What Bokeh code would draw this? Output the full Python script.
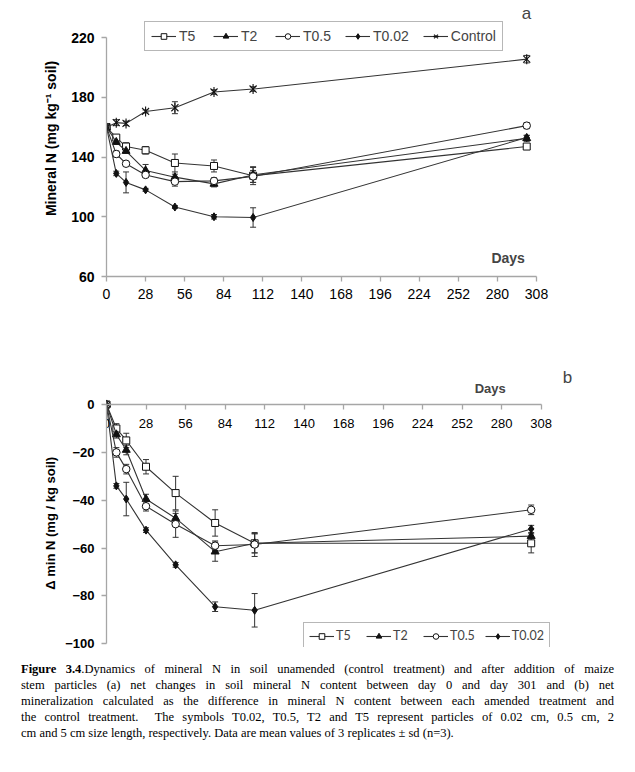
import math
from bokeh.plotting import figure
from bokeh.models import (ColumnDataSource, Whisker, TeeHead, Legend, LegendItem,
                          Label, FixedTicker, Div)
from bokeh.layouts import column
from bokeh.embed import file_html
from bokeh.resources import INLINE

# ---------------- data ----------------
days = [0, 7, 14, 28, 49, 77, 105, 301]
x_ticks = [0, 28, 56, 84, 112, 140, 168, 196, 224, 252, 280, 308]
y_ticks_a = [60, 100, 140, 180, 220]
y_ticks_b = [-100, -80, -60, -40, -20, 0]

# (a) mineral N, mg kg-1 soil
t5 = [160, 153, 147, 144.5, 136, 134, 127.5, 147]
t5_sd = [1, 1.5, 2.5, 2.5, 6, 4, 6, 2]
t2 = [160, 150, 144, 131, 126.5, 122, 128, 152.5]
t2_sd = [1, 1.5, 1.5, 4, 2, 2, 5, 2]
t05 = [160, 142, 135.5, 128, 123.5, 124, 127, 161]
t05_sd = [1, 2, 1.5, 1.5, 3, 2, 4, 2]
t002 = [160, 129, 123, 118, 106.5, 100, 99.5, 153]
t002_sd = [1, 1.5, 7, 1, 1, 1.5, 6.5, 1.5]
control = [160, 163, 162.5, 170.5, 173, 183.5, 185.5, 205.5]
control_sd = [1, 2, 1.5, 1, 4, 1.5, 1.5, 2.5]

# (b) delta min N, mg / kg soil
t5_d = [0, -10, -15, -26, -37, -49.5, -58, -58]
t5_dsd = [1, 2, 3, 3, 7, 5.5, 4, 4]
t2_d = [0, -12.5, -19, -39.5, -47.5, -61.5, -58, -55]
t2_dsd = [1, 1.5, 2, 2, 2, 4, 4, 3]
t05_d = [0, -20, -27, -42.5, -50, -59, -58.5, -44]
t05_dsd = [1, 2, 2, 2, 5.5, 2, 5, 2]
t002_d = [0, -34, -39.5, -52.5, -67, -84.5, -86, -52]
t002_dsd = [1, 1, 7, 1, 1, 2, 7, 1.5]

caption_lines = [
    "<b>Figure 3.4</b>.Dynamics of mineral N in soil unamended (control treatment) and after addition of maize",
    "stem particles (a) net changes in soil mineral N content between day 0 and day 301 and (b) net",
    "mineralization calculated as the difference in mineral N content between each amended treatment and",
    "the control treatment.&nbsp; The symbols T0.02, T0.5, T2 and T5 represent particles of 0.02 cm, 0.5 cm, 2",
    "cm and 5 cm size length, respectively. Data are mean values of 3 replicates &plusmn; sd (n=3).",
]

# ---------------- style ----------------
FONT = "Liberation Sans"
LINE = "#333333"
MARK = "#111111"
AXIS = "#a6a6a6"


def style_axes(p, size):
    for ax in (p.xaxis[0], p.yaxis[0]):
        ax.axis_line_color = AXIS
        ax.axis_line_width = 1.3
        ax.major_tick_line_color = AXIS
        ax.major_tick_line_width = 1.3
        ax.major_tick_out = 5
        ax.major_tick_in = 0
        ax.minor_tick_line_color = None
        ax.major_label_text_font = FONT
        ax.major_label_text_font_size = size
        ax.major_label_text_color = "black"
        ax.major_label_standoff = 7
        ax.axis_label_text_font = FONT
        ax.axis_label_text_font_style = "bold"
        ax.axis_label_text_color = "black"
    p.yaxis[0].major_label_text_font_style = "bold"
    p.xgrid.grid_line_color = None
    p.ygrid.grid_line_color = None
    p.outline_line_color = None


def add_series(p, x, y, sd, marker, fill, size):
    src = ColumnDataSource(dict(x=x, y=y, lo=[a - b for a, b in zip(y, sd)],
                                hi=[a + b for a, b in zip(y, sd)]))
    w = Whisker(source=src, base="x", upper="hi", lower="lo", dimension="height",
                line_color=LINE, line_width=1,
                upper_head=TeeHead(size=6, line_color=LINE, line_width=1),
                lower_head=TeeHead(size=6, line_color=LINE, line_width=1),
                level="underlay")
    p.add_layout(w)
    ln = p.line("x", "y", source=src, line_color=LINE, line_width=1.1)
    rs = [ln]
    if marker == "star":
        rs.append(p.scatter("x", "y", source=src, marker="x", size=size,
                            line_color=MARK, line_width=1.1))
        rs.append(p.scatter("x", "y", source=src, marker="dash", size=size,
                            angle=math.pi / 2, line_color=MARK, line_width=1.1))
    else:
        rs.append(p.scatter("x", "y", source=src, marker=marker, size=size,
                            fill_color=fill, line_color=MARK, line_width=1))
    return rs


# ---------------- figure a ----------------
p1 = figure(frame_width=430, frame_height=276, x_range=(0, 308), y_range=(60, 244.77),
            output_backend="svg", toolbar_location=None,
            min_border_left=105, min_border_right=84, min_border_top=0,
            min_border_bottom=27, background_fill_color="white")
p1.xaxis.ticker = FixedTicker(ticks=x_ticks)
p1.yaxis.ticker = FixedTicker(ticks=y_ticks_a)
p1.yaxis.bounds = (60, 220)
style_axes(p1, "14px")
p1.yaxis.axis_label = "Mineral N (mg kg\u207b\u00b9 soil)"
p1.yaxis.axis_label_text_font_size = "14px"
p1.yaxis.axis_label_standoff = 9

r_t5 = add_series(p1, days, t5, t5_sd, "square", "white", 7)
r_t2 = add_series(p1, days, t2, t2_sd, "triangle", MARK, 8)
r_t05 = add_series(p1, days, t05, t05_sd, "circle", "white", 7.5)
r_t002 = add_series(p1, days, t002, t002_sd, "diamond", MARK, 8)
r_c = add_series(p1, days, control, control_sd, "star", None, 10)

leg1 = Legend(items=[LegendItem(label="T5", renderers=r_t5),
                     LegendItem(label="T2", renderers=r_t2),
                     LegendItem(label="T0.5", renderers=r_t05),
                     LegendItem(label="T0.02", renderers=r_t002),
                     LegendItem(label="Control", renderers=r_c)],
              orientation="horizontal", location=(38, 225),
              label_text_font=FONT, label_text_font_size="14px",
              glyph_width=25, glyph_height=14, label_height=14, label_standoff=3,
              spacing=14, padding=6, margin=0,
              border_line_color="#6f6f6f", border_line_width=1.5,
              background_fill_color="white", background_fill_alpha=1)
p1.add_layout(leg1)

p1.add_layout(Label(x=287.7, y=72.1, text="Days", text_font=FONT,
                    text_font_size="14px", text_font_style="bold",
                    text_align="center", text_baseline="middle"))
p1.add_layout(Label(x=300.9, y=236.1, text="a", text_font=FONT,
                    text_font_size="17px", text_align="center",
                    text_baseline="middle"))

# ---------------- figure b ----------------
p2 = figure(frame_width=479, frame_height=281, x_range=(0, 339.5), y_range=(-101.55, 15.9),
            output_backend="svg", toolbar_location=None,
            min_border_left=106, min_border_right=34, min_border_top=63,
            min_border_bottom=9, background_fill_color="white")
p2.xaxis.ticker = FixedTicker(ticks=x_ticks)
p2.yaxis.ticker = FixedTicker(ticks=y_ticks_b)
p2.xaxis.fixed_location = 0
p2.xaxis.bounds = (0, 308)
p2.yaxis.bounds = (-100, 0)
style_axes(p2, "13px")
p2.xaxis.major_label_standoff = 9
p2.yaxis.axis_label = "\u0394 min N (mg / kg soil)" + "\u2002" * 5
p2.yaxis.axis_label_text_font_size = "13px"
p2.yaxis.axis_label_standoff = 4

s_t5 = add_series(p2, days, t5_d, t5_dsd, "square", "white", 7)
s_t2 = add_series(p2, days, t2_d, t2_dsd, "triangle", MARK, 8)
s_t05 = add_series(p2, days, t05_d, t05_dsd, "circle", "white", 7.5)
s_t002 = add_series(p2, days, t002_d, t002_dsd, "diamond", MARK, 8)

leg2 = Legend(items=[LegendItem(label="T5", renderers=s_t5),
                     LegendItem(label="T2", renderers=s_t2),
                     LegendItem(label="T0.5", renderers=s_t05),
                     LegendItem(label="T0.02", renderers=s_t002)],
              orientation="horizontal", location=(197, -2),
              label_text_font="Lato", label_text_font_size="12.5px",
              glyph_width=25, glyph_height=14, label_height=14, label_standoff=2,
              spacing=10, padding=5, margin=0,
              border_line_color="#6f6f6f", border_line_width=1.5,
              background_fill_color="white", background_fill_alpha=1)
p2.add_layout(leg2)

p2.add_layout(Label(x=272, y=6.7, text="Days", text_font=FONT,
                    text_font_size="13px", text_font_style="bold",
                    text_align="center", text_baseline="middle"))
p2.add_layout(Label(x=326.7, y=11.3, text="b", text_font=FONT,
                    text_font_size="17px", text_align="center",
                    text_baseline="middle"))

# ---------------- caption ----------------
rows = []
for i, ln in enumerate(caption_lines):
    last = i == len(caption_lines) - 1
    al = "left" if last else "justify"
    rows.append(f'<div style="text-align:{al};text-align-last:{al};white-space:nowrap;">{ln}</div>')
html = ('<div style="font-family:\'Liberation Serif\';font-size:12.5px;line-height:16px;'
        'color:#000;width:593px;margin-left:16px;">' + "".join(rows) + "</div>")
cap = Div(text=html, width=619, height=90)

layout = column(p1, p2, cap)
open("out.html", "w").write(file_html(layout, INLINE))
